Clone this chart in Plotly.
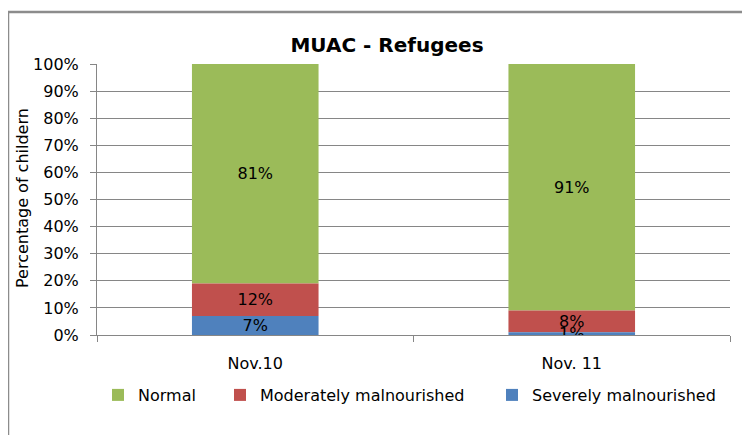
import plotly.graph_objects as go

categories = ["Nov.10", "Nov. 11"]
severe = [7, 1]
moderate = [12, 8]
normal = [81, 91]
y_ticks = [0, 10, 20, 30, 40, 50, 60, 70, 80, 90, 100]
y_tick_labels = [f"{v}%" for v in y_ticks]
grid_vals = [10, 20, 30, 40, 50, 60, 70, 80, 90]

FONT = "DejaVu Sans"
OFF = 8  # page body margin
W, H = 750, 435
# plot area in screen pixels: x 97..730, y 64..335
L, R, T, B = 97 - OFF, W - (730 - OFF), 64 - OFF, H - (335 - OFF)
pw, ph = W - L - R, H - T - B

def sx(px):
    return (px - OFF - L) / pw

def sy(py):
    return (H - B - (py - OFF)) / ph

base_mod = list(severe)
base_norm = [s + m for s, m in zip(severe, moderate)]

fig = go.Figure()
# drawn in this order so the severe labels sit on top
series = [
    ("Normal", normal, base_norm, "#9BBB59", "legend", 120),
    ("Moderately malnourished", moderate, base_mod, "#C0504D", "legend2", 242),
    ("Severely malnourished", severe, [0, 0], "#4F81BD", "legend3", 514),
]
for name, vals, base, col, lg, lx in series:
    fig.add_trace(go.Bar(
        x=categories, y=vals, base=base, name=name,
        marker=dict(color=col, line=dict(width=0)),
        text=[f"{v}%" for v in vals],
        textposition="inside", insidetextanchor="middle",
        textfont=dict(family=FONT, size=16, color="black"),
        constraintext="none", legend=lg,
    ))

legend_common = dict(orientation="h", xanchor="left", yanchor="middle",
                     y=sy(395), font=dict(family=FONT, size=16),
                     bgcolor="rgba(0,0,0,0)", itemwidth=30)
fig.update_layout(
    width=W, height=H,
    barmode="overlay", bargap=0.6,
    margin=dict(l=L, r=R, t=T, b=B, autoexpand=False),
    paper_bgcolor="white", plot_bgcolor="white",
    font=dict(family=FONT, size=16, color="black"),
    uniformtext=dict(minsize=16, mode="show"),
    title=dict(text="MUAC - Refugees", x=(387 - OFF) / W, xanchor="center",
               y=1 - (45 - OFF) / H, yanchor="middle",
               font=dict(family=FONT, size=20, color="black", weight="bold")),
    legend=dict(x=sx(120 - 22), **legend_common),
    legend2=dict(x=sx(242 - 22), **legend_common),
    legend3=dict(x=sx(514 - 22), **legend_common),
    showlegend=True,
)
fig.update_xaxes(
    showline=True, linecolor="#868686", linewidth=1,
    ticks="outside", ticklen=6, tickcolor="#868686", tickson="boundaries",
    showgrid=False, ticklabelstandoff=14, automargin=False,
    tickfont=dict(family=FONT, size=16),
)
fig.update_yaxes(
    range=[0, 100], tickvals=y_ticks, ticktext=y_tick_labels,
    showline=True, linecolor="#868686", linewidth=1,
    ticks="outside", ticklen=6, tickcolor="#868686",
    showgrid=False, zeroline=False, automargin=False,
    minor=dict(tickvals=grid_vals, showgrid=True, gridcolor="#868686",
               gridwidth=1, ticks=""),
    ticklabelstandoff=8,
    tickfont=dict(family=FONT, size=16),
)
fig.add_annotation(text="Percentage of childern", textangle=-90,
                   xref="paper", yref="paper", x=sx(22), y=sy(198),
                   xanchor="center", yanchor="middle", showarrow=False,
                   font=dict(family=FONT, size=16, color="black"))
fig.add_shape(type="path",
              path=f"M {sx(8)} {sy(445)} L {sx(8)} {sy(12)} L {sx(760)} {sy(12)}",
              xref="paper", yref="paper",
              line=dict(color="#8C8C8C", width=2.5))
fig.write_html("out.html")
